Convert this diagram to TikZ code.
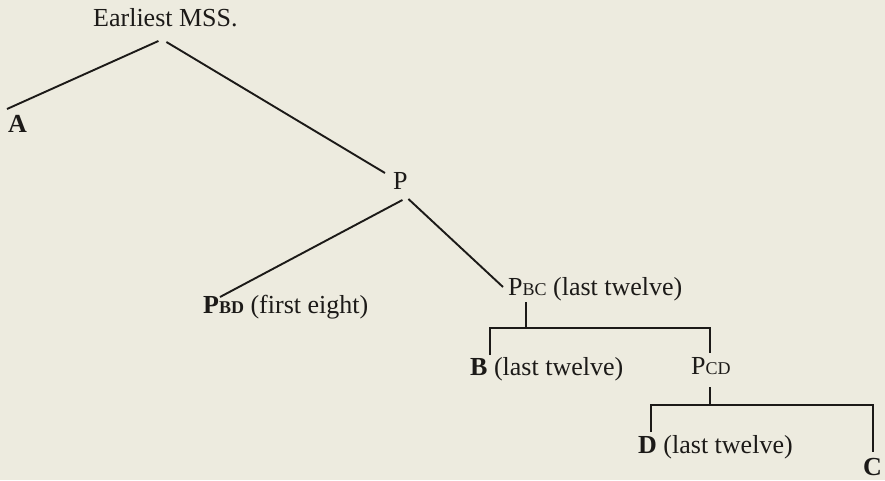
\documentclass[tikz,border=0pt]{standalone}
\usepackage{fontspec}
\setmainfont{Liberation Serif}
\usetikzlibrary{calc}
\definecolor{paper}{RGB}{237,235,223}
\definecolor{ink}{RGB}{28,26,24}
\newcommand{\sig}[1]{{\fontsize{18}{20}\selectfont #1}}
\tikzset{
  lbl/.style={anchor=base west, inner sep=0pt, text=ink, font=\fontsize{26}{30}\selectfont},
  stem/.style={draw=ink, line width=1.9pt}
}
\begin{document}
\begin{tikzpicture}[x=1pt, y=-1pt]
  \fill[paper] (0,0) rectangle (885,480);
  \useasboundingbox (0,0) rectangle (885,480);
  % labels
  \node[lbl] (ems) at (93,26) {Earliest MSS.};
  \node[lbl] (a) at (8,132) {\textbf{A}};
  \node[lbl] (p) at (393,189) {P};
  \node[lbl] (pbd) at (203,313) {\textbf{P\sig{BD}} (first eight)};
  \node[lbl] (pbc) at (508,295) {P\sig{BC} (last twelve)};
  \node[lbl] (b) at (470,375) {\textbf{B} (last twelve)};
  \node[lbl] (pcd) at (691,374) {P\sig{CD}};
  \node[lbl] (d) at (638,453) {\textbf{D} (last twelve)};
  \node[lbl] (c) at (863,475) {\textbf{C}};
  % stems
  \draw[stem] ($(ems.base)+(-7,15)$) -- ($(a.base west)+(-1,-23)$);
  \draw[stem] ($(ems.base)+(1,16)$) -- ($(p.base west)+(-8,-16)$);
  \draw[stem] ($(p.base)+(2,11)$) -- ($(pbd.base west)+(17,-16)$);
  \draw[stem] ($(p.base)+(8,10)$) -- ($(pbc.base west)+(-5,-8)$);
  % brackets
  \draw[stem] ($(pbc.base west)+(18,7)$) -- ++(0,26) coordinate (fork1);
  \draw[stem] ($(b.base west)+(20,-20)$) |- (fork1) -| ($(pcd.base west)+(19,-21)$);
  \draw[stem] ($(pcd.base west)+(19,13)$) -- ++(0,18) coordinate (fork2);
  \draw[stem] ($(d.base west)+(13,-21)$) |- (fork2) -| ($(c.base west)+(10,-23)$);
\end{tikzpicture}
\end{document}
